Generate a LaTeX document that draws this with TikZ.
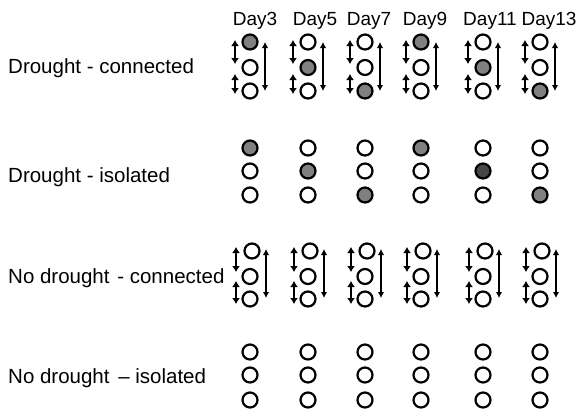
\documentclass[tikz,border=0pt]{standalone}
\usepackage{fontspec}
\setmainfont{Liberation Sans}
\usetikzlibrary{arrows.meta}
\tikzset{
  dot/.style={circle, draw, line width=2.2pt, minimum size=15pt, inner sep=0pt, fill=white},
  greydot/.style={dot, fill=black!50},
  darkdot/.style={dot, fill=black!72},
  shortarr/.style={line width=2.6pt, {Latex[length=6pt,width=8pt]}-{Latex[length=6pt,width=8pt]}},
  longarr/.style={line width=1.6pt, {Latex[length=6pt,width=6.5pt]}-{Latex[length=6pt,width=6.5pt]}},
  rowlabel/.style={anchor=base west, inner sep=0pt, font=\fontsize{20.5}{22}\selectfont},
  daylabel/.style={anchor=base, inner sep=0pt, font=\fontsize{19}{21}\selectfont},
}
\begin{document}
\begin{tikzpicture}[x=1pt, y=-1pt]
  \useasboundingbox (0,0) rectangle (582,416);

  % day headings
  \foreach \d/\x in {3/255, 5/315, 7/369, 9/425, 11/490, 13/549}
    \node[daylabel] (day\d) at (\x,25) {Day\d};

  % row headings
  \node[rowlabel] (lab1) at (8,73)  {Drought - connected};
  \node[rowlabel] (lab2) at (8,182) {Drought - isolated};
  \node[rowlabel] (lab3) at (8,283) {No drought\hspace{2pt} - connected};
  \node[rowlabel] (lab4) at (8,383) {No drought\hspace{3pt} -- isolated};

  % columns: index / x / style of top, middle, bottom dots
  \foreach \c/\x/\sa/\sb/\sc/\ia/\ib/\ic in {
      1/250/greydot/dot/dot/greydot/dot/dot,
      2/308/dot/greydot/dot/dot/greydot/dot,
      3/365/dot/dot/greydot/dot/dot/greydot,
      4/421/greydot/dot/dot/greydot/dot/dot,
      5/483/dot/greydot/dot/dot/darkdot/dot,
      6/540/dot/dot/greydot/dot/dot/greydot} {
    % drought, connected
    \node[\sa] (dca\c) at (\x,42)   {};
    \node[\sb] (dcb\c) at (\x,67.5) {};
    \node[\sc] (dcc\c) at (\x,91)   {};
    \coordinate (dcl1\c) at (\x-15,40);
    \coordinate (dcl2\c) at (\x-15,64);
    \coordinate (dcl3\c) at (\x-15,74);
    \coordinate (dcl4\c) at (\x-15,94);
    \coordinate (dcr1\c) at (\x+15,42);
    \coordinate (dcr2\c) at (\x+15,91);
    \draw[shortarr] (dcl1\c) -- (dcl2\c);
    \draw[shortarr] (dcl3\c) -- (dcl4\c);
    \draw[longarr]  (dcr1\c) -- (dcr2\c);
    % drought, isolated
    \node[\ia] (dia\c) at (\x,148) {};
    \node[\ib] (dib\c) at (\x,171) {};
    \node[\ic] (dic\c) at (\x,195) {};
    % no drought, connected
    \node[dot] (nca\c) at (\x+2,251) {};
    \node[dot] (ncb\c) at (\x,276.5) {};
    \node[dot] (ncc\c) at (\x,299)   {};
    \coordinate (ncl1\c) at (\x-14,247);
    \coordinate (ncl2\c) at (\x-14,272);
    \coordinate (ncl3\c) at (\x-14,281);
    \coordinate (ncl4\c) at (\x-14,304);
    \coordinate (ncr1\c) at (\x+16,249);
    \coordinate (ncr2\c) at (\x+16,298);
    \draw[shortarr] (ncl1\c) -- (ncl2\c);
    \draw[shortarr] (ncl3\c) -- (ncl4\c);
    \draw[longarr]  (ncr1\c) -- (ncr2\c);
    % no drought, isolated
    \node[dot] (nia\c) at (\x,352) {};
    \node[dot] (nib\c) at (\x,375) {};
    \node[dot] (nic\c) at (\x,400) {};
  }
\end{tikzpicture}
\end{document}
